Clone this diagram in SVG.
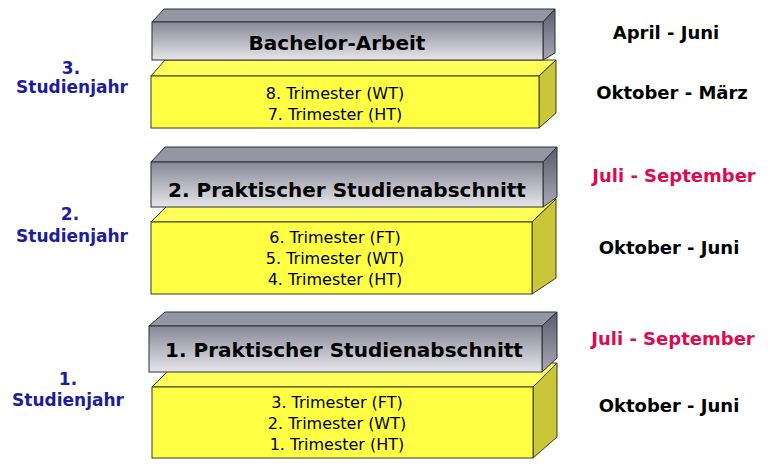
<svg xmlns="http://www.w3.org/2000/svg" width="768" height="476" viewBox="0 0 768 476">
<defs>
<linearGradient id="gFront" x1="0" y1="0" x2="0" y2="1">
<stop offset="0" stop-color="#868897"/>
<stop offset="1" stop-color="#e6e6ea"/>
</linearGradient>
<linearGradient id="gSide" x1="0" y1="0" x2="0" y2="1">
<stop offset="0" stop-color="#5a5c6e"/>
<stop offset="1" stop-color="#a8a9b4"/>
</linearGradient>
<style>
.gf{fill:url(#gFront);stroke:#2e2e36;stroke-width:1}
.gt{fill:#9496a4;stroke:#2e2e36;stroke-width:1}
.gs{fill:url(#gSide);stroke:#2e2e36;stroke-width:1}
.yf{fill:#ffff44;stroke:#3a3a20;stroke-width:1}
.yt{fill:#ffff5a;stroke:#3a3a20;stroke-width:1}
.ys{fill:#c9c637;stroke:#3a3a20;stroke-width:1}
.h{font-family:"DejaVu Sans",Verdana,sans-serif;font-weight:bold;font-size:20px;fill:#000;text-anchor:middle}
.t{font-family:"DejaVu Sans",Verdana,sans-serif;font-size:16px;fill:#000;text-anchor:middle}
.yr{font-family:"DejaVu Sans",Verdana,sans-serif;font-weight:bold;font-size:17px;fill:#1c1c9c;text-anchor:middle}
.m{font-family:"DejaVu Sans",Verdana,sans-serif;font-weight:bold;font-size:18px;fill:#000;text-anchor:middle}
.r{font-family:"DejaVu Sans",Verdana,sans-serif;font-weight:bold;font-size:18px;fill:#dc0a4e;text-anchor:middle}
</style>
</defs>
<rect width="768" height="476" fill="#ffffff"/>

<g id="year3">
<g id="trimester-7-8">
<polygon class="yt" points="151,76 165,60 556,60 539,76"/>
<polygon class="ys" points="539,76 556,60 556,113 539,128"/>
<rect class="yf" x="151" y="76" width="388" height="52"/>
<text class="t" x="335" y="99">8. Trimester (WT)</text>
<text class="t" x="335" y="120">7. Trimester (HT)</text>
</g>
<g id="bachelor">
<polygon class="gt" points="152,22 164,9 555,9 543,22"/>
<polygon class="gs" points="543,22 555,9 555,53 543,60"/>
<rect class="gf" x="152" y="22" width="391" height="38"/>
<text class="h" x="337" y="50">Bachelor-Arbeit</text>
</g>
<text class="yr" x="71" y="74">3.</text>
<text class="yr" x="72" y="93">Studienjahr</text>
<text class="m" x="666" y="39">April - Juni</text>
<text class="m" x="672" y="99">Oktober - März</text>
</g>

<g id="year2">
<g id="trimester-4-6">
<polygon class="yt" points="151,222 174,199 556,199 532,222"/>
<polygon class="ys" points="532,222 556,199 556,278 532,294"/>
<rect class="yf" x="151" y="222" width="381" height="72"/>
<text class="t" x="335" y="243">6. Trimester (FT)</text>
<text class="t" x="335" y="264">5. Trimester (WT)</text>
<text class="t" x="335" y="285">4. Trimester (HT)</text>
</g>
<g id="praxis2">
<polygon class="gt" points="151,162 165,147 557,147 543,162"/>
<polygon class="gs" points="543,162 557,147 557,197 543,207"/>
<rect class="gf" x="151" y="162" width="392" height="45"/>
<text class="h" x="347" y="197">2. Praktischer Studienabschnitt</text>
</g>
<text class="yr" x="70" y="220">2.</text>
<text class="yr" x="72" y="242">Studienjahr</text>
<text class="r" x="674" y="182">Juli - September</text>
<text class="m" x="669" y="254">Oktober - Juni</text>
</g>

<g id="year1">
<g id="trimester-1-3">
<polygon class="yt" points="152,387 176,363 557,363 533,387"/>
<polygon class="ys" points="533,387 557,363 557,437 533,458"/>
<rect class="yf" x="152" y="387" width="381" height="71"/>
<text class="t" x="337" y="408">3. Trimester (FT)</text>
<text class="t" x="337" y="429">2. Trimester (WT)</text>
<text class="t" x="337" y="450">1. Trimester (HT)</text>
</g>
<g id="praxis1">
<polygon class="gt" points="149,326 165,312 557,312 542,326"/>
<polygon class="gs" points="542,326 557,312 557,358 542,372"/>
<rect class="gf" x="149" y="326" width="393" height="46"/>
<text class="h" x="344" y="357">1. Praktischer Studienabschnitt</text>
</g>
<text class="yr" x="68" y="385">1.</text>
<text class="yr" x="68" y="406">Studienjahr</text>
<text class="r" x="673" y="345">Juli - September</text>
<text class="m" x="669" y="412">Oktober - Juni</text>
</g>
<g id="connectors"/>
</svg>
